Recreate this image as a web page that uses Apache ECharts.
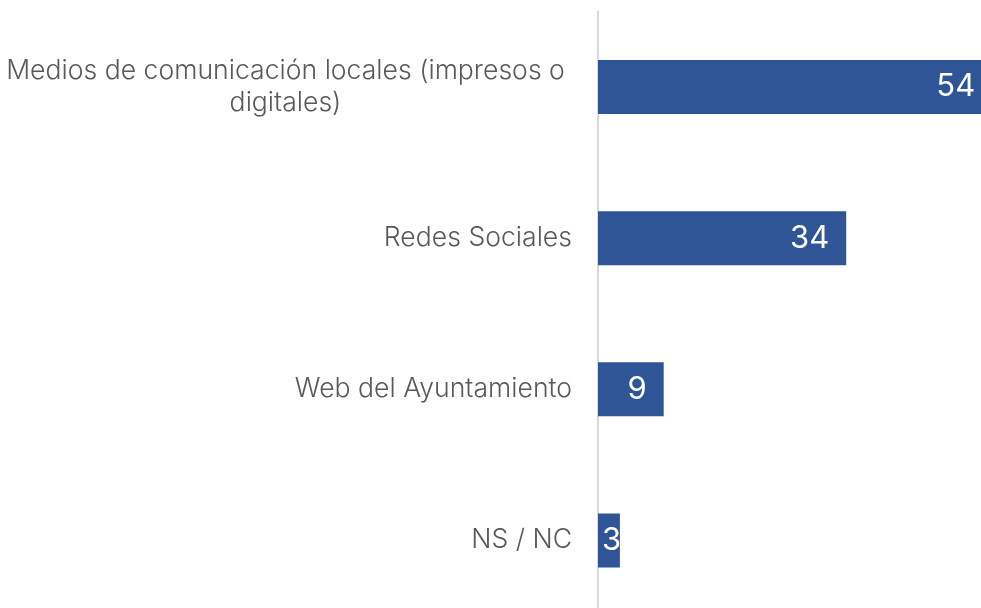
<!DOCTYPE html>
<html><head><meta charset="utf-8">
<script src="https://cdn.jsdelivr.net/npm/echarts@6/dist/echarts.min.js"></script>
<style>
html,body{margin:0;padding:0;background:#fff;overflow:hidden}
#wrap{width:981px;height:608px;overflow:hidden;position:relative}
#c{width:1036px;height:616px;position:absolute;left:0;top:0}
</style>
</head><body><div id="wrap"><div id="c"></div></div>
<script>
var categories = ['Medios de comunicación locales (impresos o\ndigitales)', 'Redes Sociales', 'Web del Ayuntamiento', 'NS / NC'];
var values = [54, 34, 9, 3];

var chart = echarts.init(document.getElementById('c'));
var data = values.map(function (v, i) {
  var d = { value: v };
  if (i === values.length - 1) {
    d.label = { position: 'insideLeft', distance: 4 };
  }
  return d;
});
var FS = 26.6;
chart.setOption({
  animation: false,
  grid: { left: 598, top: 11.5, right: 0, bottom: 0, containLabel: false, outerBoundsMode: 'none' },
  xAxis: { type: 'value', min: 0, max: 60, show: false },
  yAxis: {
    type: 'category', inverse: true, data: categories,
    axisLine: { show: true, lineStyle: { color: '#d9d9d9', width: 2 } },
    axisTick: { show: false },
    axisLabel: {
      margin: 26,
      fontFamily: 'Inter', fontWeight: 300, fontSize: FS, color: '#595959',
      formatter: function (v) {
        if (v.indexOf('\n') >= 0) {
          return v.split('\n').map(function (s) { return '{m|' + s + '}'; }).join('\n');
        }
        return '{n|' + v + '}';
      },
      rich: {
        m: { width: 573, align: 'center', fontFamily: 'Inter', fontWeight: 300, fontSize: FS, color: '#595959', lineHeight: 32 },
        n: { fontFamily: 'Inter', fontWeight: 300, fontSize: FS, color: '#595959' }
      }
    }
  },
  series: [{
    type: 'bar', data: data, barWidth: 54,
    itemStyle: { color: '#2F5597' },
    label: { show: true, position: 'insideRight', distance: 17, color: '#fff', fontFamily: 'Inter', fontSize: 31 }
  }]
});
</script></body></html>
